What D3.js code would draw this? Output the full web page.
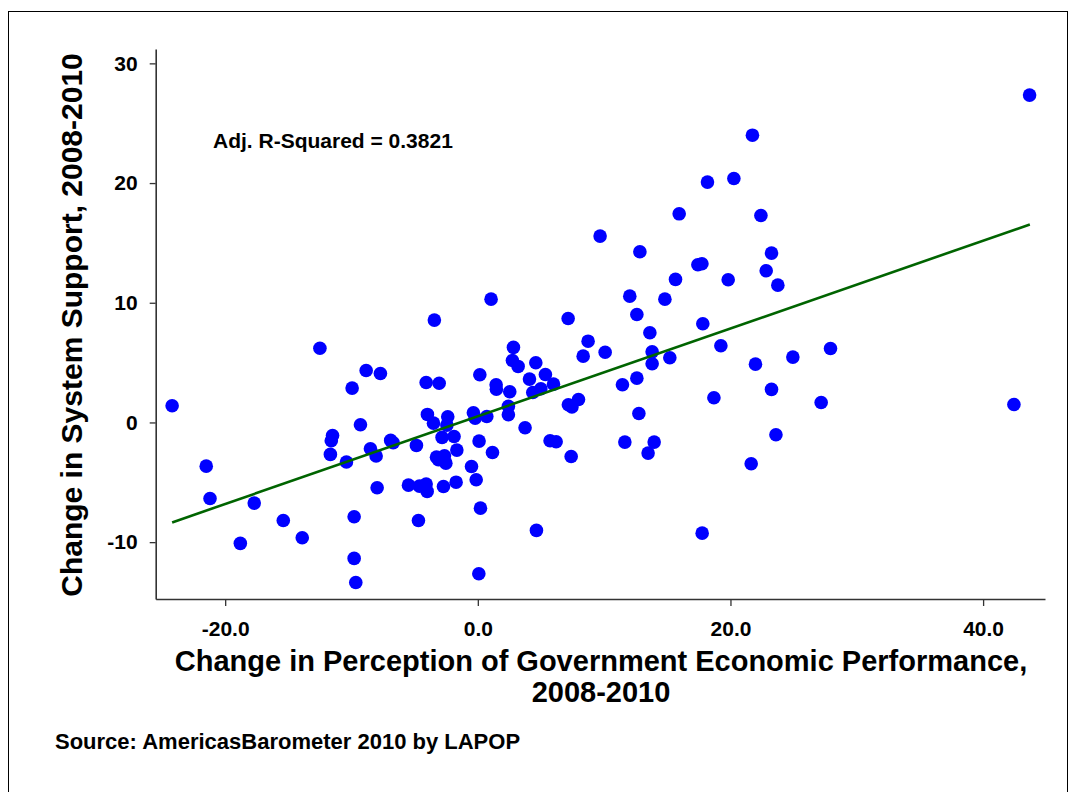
<!DOCTYPE html>
<html>
<head>
<meta charset="utf-8">
<script src="https://cdn.jsdelivr.net/npm/d3@7"></script>
<style>
  html, body { margin: 0; padding: 0; background: #fff; }
  svg { display: block; font-family: "Liberation Sans", Arial, sans-serif; }
</style>
</head>
<body>
<svg id="chart" width="1070" height="792"></svg>
<script>
// Change in perception of government economic performance (x) vs change in system support (y), 2008-2010
const econChange = [
  -24.2, -12.5, -8.84, -7.71, -9.95, -9.29, -11.5, -11.6, -11.67, -10.4, -8.5, -8.05, -6.9, -6.7, -7.97,
  -21.5, -21.2, -17.7, -15.4, -13.9, -18.8, -9.79, -9.79, -9.66,
  1.05, -3.44, 7.15, 8.73, 8.34, 10.08, 2.82, 2.74, 3.19, 4.59, 5.35, 4.09, 5.99, 4.99, 4.35, 1.45, 1.47,
  2.53, 0.16, -4.09, -3.06, 11.45, 7.17, 7.45, 7.97, 2.42, 2.42, -0.35, -0.21, 0.71, -3.99, -3.51, -2.38,
  -2.45, -2.83, -1.88, -1.66, 3.74, 0.1, 1.16, 5.72, 6.2, 7.39, 11.64, -4.86, -3.27, -2.64, -2.53, -3.12,
  -0.5, -0.13, -5.49, -4.62, -4.09, -4.01, -2.72, -1.72, 0.21, -4.7, 4.64, 0.08,
  21.74, 18.18, 20.27, 15.94, 22.41, 12.83, 9.68, 23.25, 17.42, 17.74, 22.83, 15.65, 19.82, 23.75, 12.03,
  14.81, 12.59, 13.62, 17.81, 13.8, 13.8, 15.2, 19.24, 21.98, 24.94, 27.92, 12.59, 23.25, 18.69, 27.18,
  12.75, 13.96, 13.48, 23.6, 21.64, 17.76, 43.68, 42.44
];
const supportChange = [
  1.4, 6.2, 4.34, 4.09, 2.87, -0.19, -1.09, -1.53, -2.67, -3.3, -2.2, -2.8, -1.5, -1.7, -5.46,
  -3.65, -6.35, -6.74, -8.19, -9.63, -10.1, -7.88, -11.36, -13.37,
  10.3, 8.55, 8.69, 6.79, 5.54, 5.87, 6.27, 5.18, 4.68, 4.99, 4.01, 3.62, 3.2, 2.81, 2.5, 3.15, 2.78,
  2.56, 3.98, 3.34, 3.28, 3.15, 1.48, 1.3, 1.92, 1.34, 0.64, 0.81, 0.36, 0.5, 0.67, -0.06, 0.48,
  -0.22, -1.25, -1.17, -2.31, -0.44, -1.56, -2.51, -1.53, -1.61, -2.84, -1.64, -1.92, -2.9, -2.78, -3.4, -3.12,
  -3.68, -4.79, -5.24, -5.32, -5.15, -5.76, -5.35, -4.99, -7.16, -8.19, -9.02, -12.64,
  24.0, 20.08, 20.38, 17.43, 17.29, 14.26, 15.57, 14.15, 13.17, 13.26, 12.67, 11.95, 11.92, 11.47, 10.55,
  10.3, 9.02, 7.49, 8.25, 5.9, 4.9, 5.4, 6.41, 4.87, 5.46, 6.18, 3.7, 2.76, 2.06, 1.67,
  0.75, -1.64, -2.56, -1.03, -3.45, -9.25, 27.35, 1.5
];

// Fitted regression line
const fitIntercept = 0.52;
const fitSlope = 0.3666;
const fitRange = [-24.2, 43.7];

const xTicks = [-20, 0, 20, 40];
const yTicks = [-10, 0, 10, 20, 30];

const xTitleLines = ["Change in Perception of Government Economic Performance,", "2008-2010"];
const yTitle = "Change in System Support, 2008-2010";
const fitNote = "Adj. R-Squared = 0.3821";
const sourceNote = "Source: AmericasBarometer 2010 by LAPOP";

const svg = d3.select("#chart");

// outer frame
svg.append("rect")
  .attr("x", 8.5).attr("y", 11.5)
  .attr("width", 1059).attr("height", 800)
  .attr("fill", "none").attr("stroke", "#000").attr("stroke-width", 1);

const x = d3.scaleLinear().domain([-25.5, 44.9]).range([155.7, 1045]);
const y = d3.scaleLinear().domain([-14.75, 31.2]).range([599, 49]);

const axisColor = "#333";
// plain hyphen for negatives
const fmtX = d => d3.format(".1f")(d).replace("\u2212", "-");
const fmtY = d => d3.format("d")(d).replace("\u2212", "-");

// x axis
const gx = svg.append("g")
  .attr("transform", `translate(0,${y.range()[0]})`)
  .call(d3.axisBottom(x).tickValues(xTicks).tickFormat(fmtX)
    .tickSize(7).tickSizeOuter(0).tickPadding(15));
gx.select(".domain").attr("stroke", axisColor).attr("stroke-width", 1.6);
gx.selectAll(".tick line").attr("stroke", axisColor).attr("stroke-width", 1.3);
gx.selectAll(".tick text")
  .attr("fill", "#000").attr("font-size", 21).attr("font-weight", "bold")
  .attr("font-family", "Liberation Sans, Arial, sans-serif");

// y axis
const gy = svg.append("g")
  .attr("transform", `translate(${x.range()[0]},0)`)
  .call(d3.axisLeft(y).tickValues(yTicks).tickFormat(fmtY)
    .tickSize(6).tickSizeOuter(0).tickPadding(12));
gy.select(".domain").attr("stroke", axisColor).attr("stroke-width", 1.6);
gy.selectAll(".tick line").attr("stroke", axisColor).attr("stroke-width", 1.3);
gy.selectAll(".tick text")
  .attr("fill", "#000").attr("font-size", 21).attr("font-weight", "bold")
  .attr("font-family", "Liberation Sans, Arial, sans-serif");

// points
const points = econChange.map((v, i) => ({ x: v, y: supportChange[i] }));
svg.append("g")
  .selectAll("circle")
  .data(points)
  .join("circle")
  .attr("cx", d => x(d.x))
  .attr("cy", d => y(d.y))
  .attr("r", 6.8)
  .attr("fill", "#0000ff");

// regression line
const line = d3.line().x(d => x(d)).y(d => y(fitIntercept + fitSlope * d));
svg.append("path")
  .datum(fitRange)
  .attr("d", line)
  .attr("fill", "none")
  .attr("stroke", "#006400")
  .attr("stroke-width", 2.6);

// fit annotation
svg.append("text")
  .attr("x", 213).attr("y", 148)
  .attr("font-size", 21).attr("font-weight", "bold")
  .text(fitNote);

// axis titles (two lines)
xTitleLines.forEach((t, i) => {
  svg.append("text")
    .attr("x", 601)
    .attr("y", 671 + i * 31)
    .attr("text-anchor", "middle")
    .attr("font-size", 29).attr("font-weight", "bold")
    .text(t);
});

svg.append("text")
  .attr("transform", "translate(82,325) rotate(-90)")
  .attr("text-anchor", "middle")
  .attr("font-size", 30).attr("font-weight", "bold")
  .text(yTitle);

// source note
svg.append("text")
  .attr("x", 55).attr("y", 749)
  .attr("font-size", 22).attr("font-weight", "bold")
  .text(sourceNote);
</script>
</body>
</html>
